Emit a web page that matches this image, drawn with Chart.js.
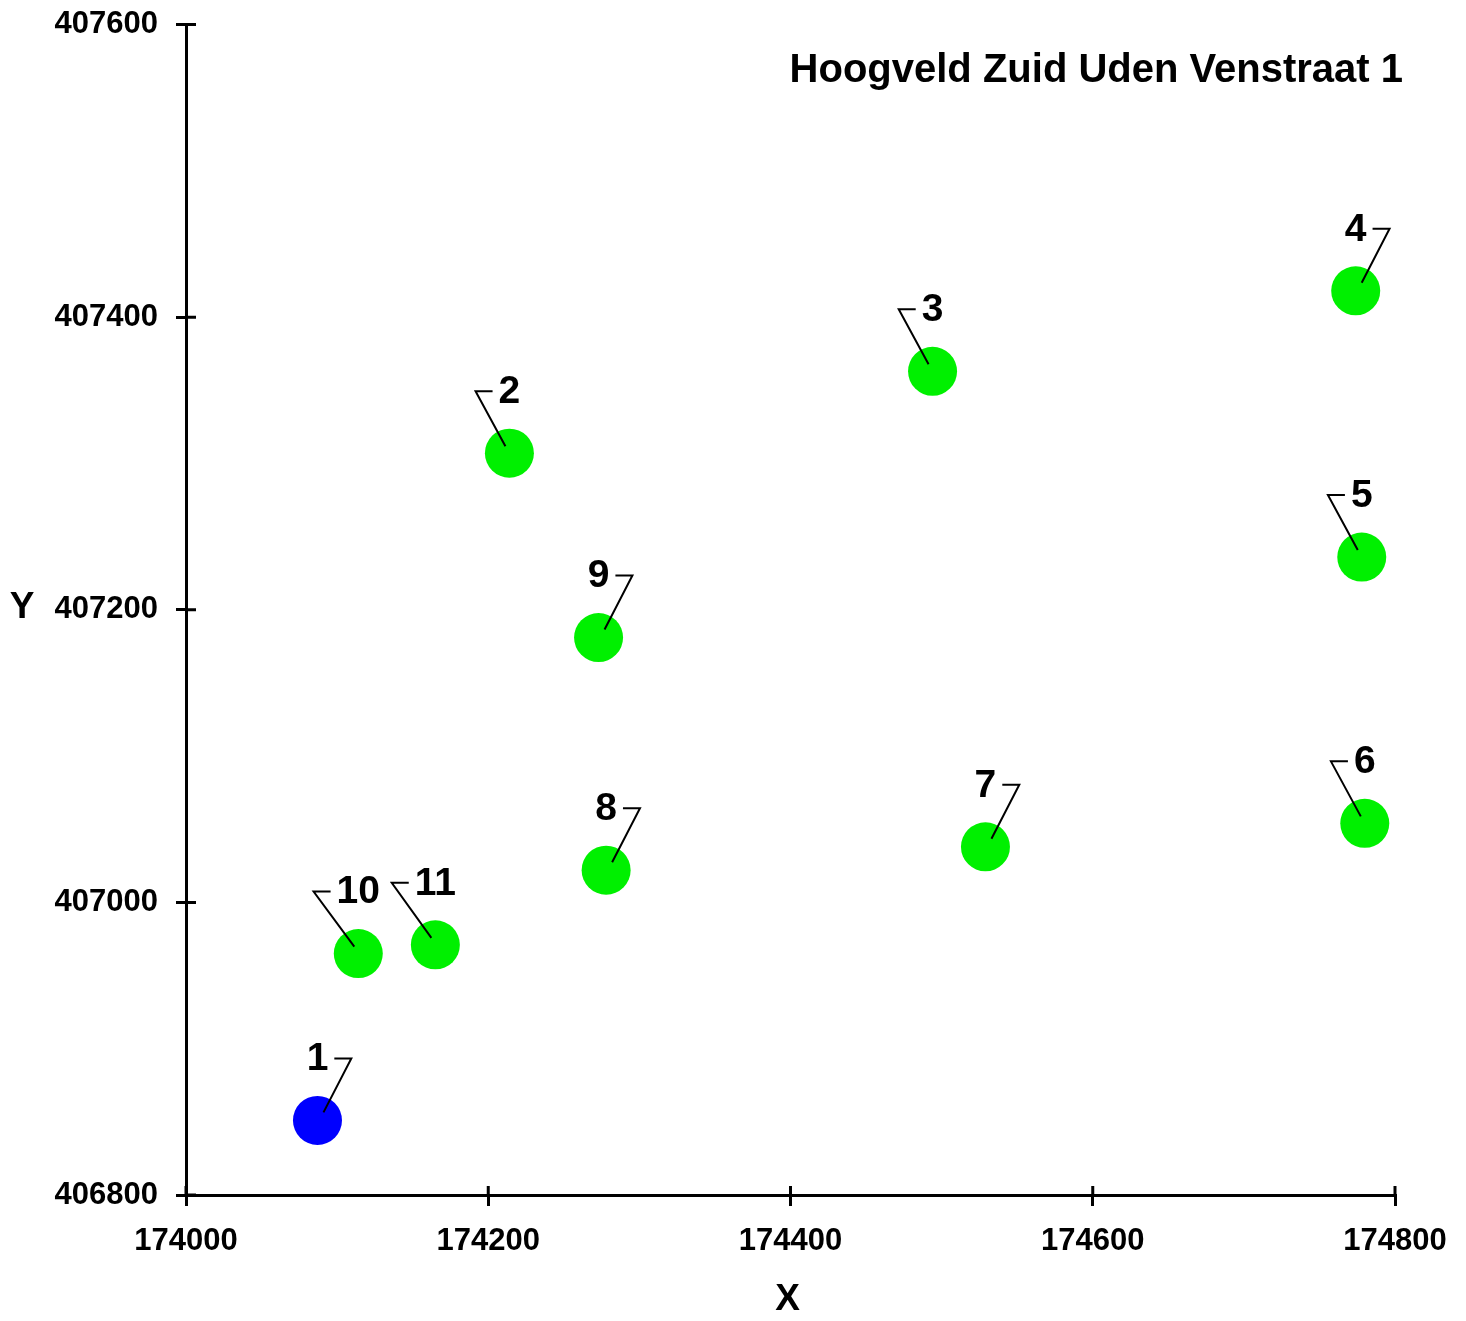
<!DOCTYPE html>
<html>
<head>
<meta charset="utf-8">
<script src="https://cdn.jsdelivr.net/npm/chart.js@4/dist/chart.umd.min.js"></script>
<style>
  body { margin: 0; background: #fff; }
  #wrap { width: 1466px; height: 1321px; }
</style>
</head>
<body>
<div id="wrap"><canvas id="scatterChart"></canvas></div>
<script>
const pointNames = ['1', '2', '3', '4', '5', '6', '7', '8', '9', '10', '11'];
const xValues = [174087, 174214, 174494, 174774, 174778, 174780, 174529, 174278, 174273, 174114, 174165];
const yValues = [406851, 407307, 407363, 407418, 407236, 407054, 407038, 407022, 407181, 406965, 406971];
const xTicks = [174000, 174200, 174400, 174600, 174800];
const yTicks = [406800, 407000, 407200, 407400, 407600];
// which side of the label the leader line's flag sits on
const flagSide = ['R', 'L', 'L', 'R', 'L', 'L', 'R', 'R', 'R', 'L', 'L'];
const title = 'Hoogveld Zuid Uden Venstraat 1';

const FONT = '"Liberation Sans", Arial, sans-serif';

const points = xValues.map((x, i) => ({ x: x, y: yValues[i] }));

// labels with small flag-shaped leader lines, plus title and axis letters
const annotations = {
  id: 'annotations',
  afterDatasetsDraw(chart) {
    const c = chart.ctx;
    const meta = chart.getDatasetMeta(0);
    c.save();
    c.font = 'bold 39px ' + FONT;
    c.textAlign = 'center';
    c.textBaseline = 'middle';
    meta.data.forEach((pt, i) => {
      const w = c.measureText(pointNames[i]).width;
      const ly = pt.y - 62;
      let x1, x2, ex, ey;
      if (flagSide[i] === 'L') {
        x2 = pt.x - w / 2 - 6;
        x1 = x2 - 17;
        ex = pt.x - 4; ey = pt.y - 7;
      } else {
        x2 = pt.x + w / 2 + 6;
        x1 = x2 + 17;
        ex = pt.x + 6; ey = pt.y - 8;
      }
      c.strokeStyle = '#000';
      c.lineWidth = 2;
      c.beginPath();
      c.moveTo(x2, ly);
      c.lineTo(x1, ly);
      c.lineTo(ex, ey);
      c.stroke();
      c.fillStyle = '#000';
      c.fillText(pointNames[i], pt.x, ly + 1);
    });

    const area = chart.chartArea;
    c.font = 'bold 40px ' + FONT;
    c.textAlign = 'right';
    c.fillText(title, area.right + 8, area.top + 46);

    c.font = 'bold 37px ' + FONT;
    c.textAlign = 'center';
    c.fillText('X', (area.left + area.right) / 2 - 3, 1300);
    c.fillText('Y', 22, (area.top + area.bottom) / 2 - 2);
    c.restore();
  },
  // inner half of the crossing tick marks
  afterDraw(chart) {
    const c = chart.ctx;
    const xs = chart.scales.x, ys = chart.scales.y;
    c.save();
    c.strokeStyle = '#000';
    c.lineWidth = 3;
    c.beginPath();
    xs.ticks.forEach(t => {
      const px = xs.getPixelForValue(t.value);
      c.moveTo(px, xs.top);
      c.lineTo(px, xs.top - 9);
    });
    ys.ticks.forEach(t => {
      const py = ys.getPixelForValue(t.value);
      c.moveTo(ys.right, py);
      c.lineTo(ys.right + 10, py);
    });
    c.stroke();
    c.restore();
  }
};

new Chart(document.getElementById('scatterChart'), {
  type: 'scatter',
  data: {
    datasets: [{
      data: points,
      pointRadius: 24.5,
      pointHoverRadius: 24.5,
      borderWidth: 0,
      backgroundColor: ctx => ctx.dataIndex === 0 ? '#0000ff' : '#00f000',
      clip: false
    }]
  },
  options: {
    responsive: true,
    maintainAspectRatio: false,
    animation: false,
    layout: { padding: { top: 24, right: 71, left: 0, bottom: 0 } },
    plugins: {
      legend: { display: false },
      tooltip: { enabled: false },
      title: { display: false }
    },
    scales: {
      x: {
        type: 'linear',
        min: xTicks[0],
        max: xTicks[xTicks.length - 1],
        afterBuildTicks: s => { s.ticks = xTicks.map(v => ({ value: v })); },
        afterFit: s => { s.height = 126; s.paddingLeft = 0; s.paddingRight = 0; },
        border: { color: '#000', width: 3 },
        grid: { drawOnChartArea: false, color: '#000', lineWidth: 3, tickLength: 11 },
        ticks: {
          color: '#000',
          padding: 17,
          maxRotation: 0,
          font: { family: FONT, size: 31, weight: 'bold' },
          callback: v => String(v)
        }
      },
      y: {
        type: 'linear',
        min: yTicks[0],
        max: yTicks[yTicks.length - 1],
        afterBuildTicks: s => { s.ticks = yTicks.map(v => ({ value: v })); },
        afterFit: s => { s.width = 186; s.paddingTop = 0; s.paddingBottom = 0; },
        border: { color: '#000', width: 3 },
        grid: { drawOnChartArea: false, color: '#000', lineWidth: 3, tickLength: 10 },
        ticks: {
          color: '#000',
          padding: 18,
          font: { family: FONT, size: 31, weight: 'bold' },
          callback: v => String(v)
        }
      }
    }
  },
  plugins: [annotations]
});
</script>
</body>
</html>
